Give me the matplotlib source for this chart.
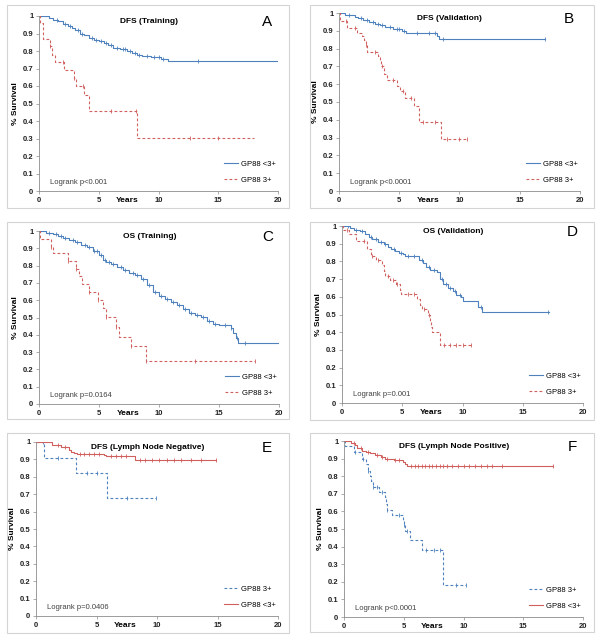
import numpy as np
import matplotlib
matplotlib.use("Agg")
import matplotlib.pyplot as plt
from matplotlib.patches import Rectangle
from matplotlib.ticker import FuncFormatter

plt.rcParams['font.family'] = ['Liberation Sans', 'DejaVu Sans']

BLUE = '#4f81bd'
RED = '#d0605e'

# ---- data (years, survival) ----
# A: DFS training
a_lo_t = [0, 0.8, 1.2, 1.6, 2.0, 2.4, 2.8, 3.0, 3.4, 3.8, 4.2, 4.6, 5.0, 5.4, 5.8, 6.2, 6.8, 7.4, 7.8, 8.2, 8.6, 9.4, 10.2, 10.8, 20]
a_lo_s = [1, 0.99, 0.98, 0.97, 0.955, 0.945, 0.93, 0.92, 0.90, 0.89, 0.875, 0.865, 0.855, 0.845, 0.835, 0.82, 0.81, 0.80, 0.79, 0.78, 0.77, 0.765, 0.755, 0.745, 0.745]
a_lo_c = [1.5, 2.2, 2.6, 3.3, 3.6, 4.4, 4.8, 5.2, 5.6, 6.0, 6.5, 7.0, 7.2, 7.6, 8.0, 8.4, 9.0, 9.6, 10.0, 10.4, 13.3]
a_hi_t = [0, 0.1, 0.3, 0.9, 1.1, 1.3, 2.1, 2.9, 3.1, 3.8, 4.2, 8.2, 18]
a_hi_s = [1, 0.96, 0.87, 0.83, 0.78, 0.735, 0.69, 0.645, 0.60, 0.55, 0.46, 0.305, 0.305]
a_hi_c = [0.9, 2.0, 2.9, 3.7, 6.0, 8.1, 12.6, 15.0]

# B: DFS validation
b_lo_t = [0, 0.5, 1.3, 1.6, 2.0, 2.5, 3.0, 3.4, 3.8, 4.5, 5.2, 5.6, 8.1, 8.3, 17.1]
b_lo_s = [1, 0.99, 0.98, 0.97, 0.96, 0.95, 0.94, 0.93, 0.92, 0.91, 0.90, 0.885, 0.87, 0.855, 0.855]
b_lo_c = [0.8, 1.8, 2.3, 2.8, 3.2, 3.6, 4.2, 4.8, 5.0, 5.4, 6.5, 7.5, 8.0, 8.6, 17.1]
b_hi_t = [0, 0.1, 0.7, 1.5, 1.9, 2.1, 2.2, 2.3, 3.2, 3.4, 3.5, 3.7, 4.0, 4.8, 5.1, 5.5, 6.2, 6.6, 8.5, 10.6]
b_hi_s = [1, 0.955, 0.915, 0.89, 0.87, 0.85, 0.82, 0.78, 0.76, 0.735, 0.70, 0.66, 0.625, 0.59, 0.56, 0.52, 0.48, 0.39, 0.29, 0.29]
b_hi_c = [0.6, 1.3, 2.2, 3.0, 3.6, 4.5, 5.3, 6.0, 7.0, 8.0, 9.0, 10.0, 10.6]

# C: OS training
c_lo_t = [0, 0.6, 1.2, 1.6, 2.0, 2.5, 3.0, 3.5, 4.0, 4.5, 5.0, 5.3, 5.6, 6.0, 6.5, 7.0, 7.5, 8.0, 8.5, 9.0, 9.5, 10.0,
          10.5, 11.0, 11.5, 12.0, 12.5, 13.0, 13.5, 14.0, 14.5, 15.0, 16.0, 16.2, 16.4, 16.6, 20]
c_lo_s = [1, 0.99, 0.98, 0.97, 0.96, 0.95, 0.935, 0.92, 0.905, 0.885, 0.86, 0.835, 0.82, 0.81, 0.79, 0.775, 0.76, 0.745,
          0.72, 0.69, 0.65, 0.625, 0.605, 0.59, 0.57, 0.55, 0.525, 0.515, 0.505, 0.48, 0.46, 0.455, 0.44, 0.41, 0.38, 0.355, 0.355]
c_lo_c = [0.8, 1.4, 1.8, 2.2, 2.8, 3.2, 3.8, 4.2, 4.6, 4.8, 5.2, 5.5, 5.8, 6.2, 6.8, 7.2, 7.8, 8.2, 8.7, 9.2, 9.7, 10.2,
          10.7, 11.2, 11.7, 12.2, 12.7, 13.2, 13.7, 14.2, 14.7, 15.5, 16.0, 16.5, 17.2]
c_hi_t = [0, 0.1, 1.0, 1.2, 2.4, 3.1, 3.3, 3.6, 4.2, 4.9, 5.3, 5.6, 6.4, 6.7, 7.7, 8.9, 18]
c_hi_s = [1, 0.955, 0.91, 0.87, 0.825, 0.78, 0.74, 0.695, 0.65, 0.60, 0.555, 0.505, 0.445, 0.39, 0.335, 0.25, 0.25]
c_hi_c = [1.0, 2.4, 3.1, 4.2, 4.9, 5.6, 6.4, 7.7, 8.9, 13.0, 18.0]

# D: OS validation
d_lo_t = [0, 0.7, 1.0, 1.5, 1.9, 2.2, 2.5, 3.0, 3.5, 3.8, 4.1, 4.4, 4.7, 5.1, 5.2, 6.4, 6.7, 7.0, 7.3, 7.9, 8.1, 8.4,
          8.8, 9.2, 9.5, 9.9, 10.0, 11.3, 11.6, 17.2]
d_lo_s = [1, 0.99, 0.98, 0.97, 0.955, 0.94, 0.925, 0.91, 0.90, 0.88, 0.87, 0.86, 0.85, 0.84, 0.83, 0.81, 0.79, 0.77, 0.75,
          0.74, 0.70, 0.67, 0.65, 0.63, 0.61, 0.60, 0.575, 0.545, 0.515, 0.515]
d_lo_c = [0.5, 1.2, 1.7, 2.4, 2.8, 3.2, 3.6, 4.3, 4.9, 5.5, 6.0, 6.6, 7.2, 7.6, 8.3, 8.6, 9.0, 9.4, 9.8, 11.5, 17.1]
d_hi_t = [0, 0.1, 0.6, 1.2, 2.1, 2.4, 2.8, 3.3, 3.5, 3.6, 4.0, 4.5, 4.8, 4.9, 6.2, 6.5, 6.6, 7.1, 7.3, 7.4, 7.5, 8.1, 10.7]
d_hi_s = [1, 0.975, 0.955, 0.915, 0.87, 0.83, 0.81, 0.78, 0.745, 0.72, 0.695, 0.67, 0.64, 0.615, 0.585, 0.555, 0.53,
          0.50, 0.465, 0.43, 0.40, 0.33, 0.33]
d_hi_c = [0.4, 1.8, 2.5, 3.0, 3.8, 4.2, 4.6, 5.5, 6.0, 6.8, 7.2, 8.5, 9.0, 9.5, 10.0, 10.7]

# E: DFS lymph node negative
e_hi_t = [0, 0.7, 3.3, 5.9, 9.9]
e_hi_s = [1, 0.91, 0.82, 0.68, 0.68]
e_hi_c = [0.6, 1.8, 4.2, 5.0, 7.5, 9.9]
e_lo_t = [0, 1.3, 2.1, 2.7, 2.9, 3.1, 3.4, 5.6, 5.8, 8.2, 14.9]
e_lo_s = [1, 0.98, 0.97, 0.955, 0.945, 0.935, 0.93, 0.925, 0.92, 0.895, 0.895]
e_lo_c = [1.8, 2.4, 3.6, 4.0, 4.4, 4.8, 5.2, 6.2, 6.6, 7.0, 7.4, 8.6, 9.0, 9.6, 10.2, 10.8, 11.4, 12.0, 12.8, 13.6, 14.9]

# F: DFS lymph node positive
f_hi_t = [0, 0.1, 0.8, 1.5, 1.8, 2.0, 2.2, 2.3, 2.4, 2.9, 3.4, 3.5, 3.6, 4.0, 4.9, 5.0, 5.1, 5.5, 6.5, 8.3, 10.2]
f_hi_s = [1, 0.97, 0.94, 0.90, 0.87, 0.83, 0.80, 0.77, 0.74, 0.71, 0.68, 0.64, 0.61, 0.58, 0.55, 0.52, 0.49, 0.44,
          0.38, 0.18, 0.18]
f_hi_c = [0.9, 1.6, 2.0, 2.4, 2.8, 3.2, 3.6, 4.6, 5.0, 5.3, 6.9, 7.5, 8.0, 9.4, 10.2]
f_lo_t = [0, 0.6, 0.9, 1.1, 1.5, 1.8, 2.2, 2.6, 3.1, 3.4, 4.0, 4.2, 4.9, 5.1, 5.3, 17.5]
f_lo_s = [1, 0.99, 0.98, 0.96, 0.945, 0.94, 0.93, 0.92, 0.91, 0.90, 0.895, 0.89, 0.88, 0.87, 0.86, 0.86]
f_lo_c = [0.8, 1.4, 2.0, 2.8, 3.2, 3.6, 4.3, 4.6, 5.6, 5.9, 6.2, 6.5, 6.8, 7.1, 7.4, 7.7, 8.0, 8.3, 8.6, 9.0, 9.5,
          10.0, 10.5, 11.0, 11.5, 12.0, 12.4, 13.2, 17.5]

titles = ['DFS (Training)', 'DFS (Validation)', 'OS (Training)', 'OS (Validation)',
          'DFS (Lymph Node Negative)', 'DFS (Lymph Node Positive)']
letters = ['A', 'B', 'C', 'D', 'E', 'F']
pvals = ['Logrank p<0.001', 'Logrank p<0.0001', 'Logrank p=0.0164', 'Logrank p=0.001',
         'Logrank p=0.0406', 'Logrank p<0.0001']

W, H = 600, 637
# panel boxes and axes rectangles in pixels (left, top, right, bottom)
boxes = [(7, 5, 289, 208), (310, 5, 594, 208), (7, 222, 289, 419),
         (310, 222, 594, 420), (7, 433, 289, 633), (310, 433, 594, 632)]
axrects = [(39, 16, 278, 191), (339, 13, 580, 191), (39, 231, 279, 404),
           (342, 226, 583, 403), (36, 442, 278, 616), (344, 441, 583, 617)]


def km(ax, t, s, cens, color, ls, label):
    t = np.asarray(t)
    s = np.asarray(s)
    ax.step(t, s, where='post', color=color, ls=ls, lw=0.8, label=label,
            dashes=(2.5, 2) if ls == '--' else (None, None))
    c = np.asarray(cens)
    idx = np.searchsorted(t, c, side='right') - 1
    idx = np.clip(idx, 0, len(s) - 1)
    ax.plot(c, s[idx], ls='none', marker='|', ms=2.5, mew=0.6, color=color)


series = [
    [(a_lo_t, a_lo_s, a_lo_c, BLUE, '-', 'GP88 <3+'), (a_hi_t, a_hi_s, a_hi_c, RED, '--', 'GP88 3+')],
    [(b_lo_t, b_lo_s, b_lo_c, BLUE, '-', 'GP88 <3+'), (b_hi_t, b_hi_s, b_hi_c, RED, '--', 'GP88 3+')],
    [(c_lo_t, c_lo_s, c_lo_c, BLUE, '-', 'GP88 <3+'), (c_hi_t, c_hi_s, c_hi_c, RED, '--', 'GP88 3+')],
    [(d_lo_t, d_lo_s, d_lo_c, BLUE, '-', 'GP88 <3+'), (d_hi_t, d_hi_s, d_hi_c, RED, '--', 'GP88 3+')],
    [(e_hi_t, e_hi_s, e_hi_c, BLUE, '--', 'GP88 3+'), (e_lo_t, e_lo_s, e_lo_c, RED, '-', 'GP88 <3+')],
    [(f_hi_t, f_hi_s, f_hi_c, BLUE, '--', 'GP88 3+'), (f_lo_t, f_lo_s, f_lo_c, RED, '-', 'GP88 <3+')],
]

fig = plt.figure(figsize=(W / 100, H / 100), dpi=100)

for i in range(6):
    l, t, r, b = boxes[i]
    fig.add_artist(Rectangle((l / W, 1 - b / H), (r - l) / W, (b - t) / H, transform=fig.transFigure,
                             fill=False, ec='#d4d4d4', lw=0.8))
    l, t, r, b = axrects[i]
    ax = fig.add_axes([l / W, 1 - b / H, (r - l) / W, (b - t) / H])
    for tt, ss, cc, col, ls, lab in series[i]:
        km(ax, tt, ss, cc, col, ls, lab)

    ax.set_xlim(0, 20)
    ax.set_ylim(0, 1)
    ax.set_xticks([0, 5, 10, 15, 20])
    ax.set_yticks(np.arange(0, 1.01, 0.1))
    ax.yaxis.set_major_formatter(FuncFormatter(lambda v, p: '%g' % round(v, 1)))
    for sp in ['top', 'right']:
        ax.spines[sp].set_visible(False)
    for sp in ['left', 'bottom']:
        ax.spines[sp].set_color('#8c8c8c')
        ax.spines[sp].set_linewidth(0.6)
    ax.tick_params(length=2, width=0.5, color='#8c8c8c', labelsize=5.5, pad=2, labelcolor='#222222')
    for lb in ax.get_xticklabels() + ax.get_yticklabels():
        lb.set_fontweight('bold')
    ax.set_ylabel('% Survival', fontsize=6, fontweight='bold', labelpad=3)
    ax.annotate('Years', xy=(7.4, 0), xycoords=('data', 'axes fraction'), xytext=(0, -4),
                textcoords='offset points', ha='center', va='top', fontsize=6, fontweight='bold')
    ax.text(0.46, 0.99, titles[i], transform=ax.transAxes, ha='center', va='top',
            fontsize=6, fontweight='bold')
    ax.text(0.955, 0.965, letters[i], transform=ax.transAxes, ha='center', va='center', fontsize=11)
    ax.text(0.045, 0.05, pvals[i], transform=ax.transAxes, ha='left', va='center',
            fontsize=5.5, color='#404040')
    ax.legend(loc='lower right', bbox_to_anchor=(1.02, 0.0), frameon=False, fontsize=5.5,
              handlelength=1.8, labelspacing=1.2, handletextpad=0.4)

fig.savefig('out.png', dpi=100)
